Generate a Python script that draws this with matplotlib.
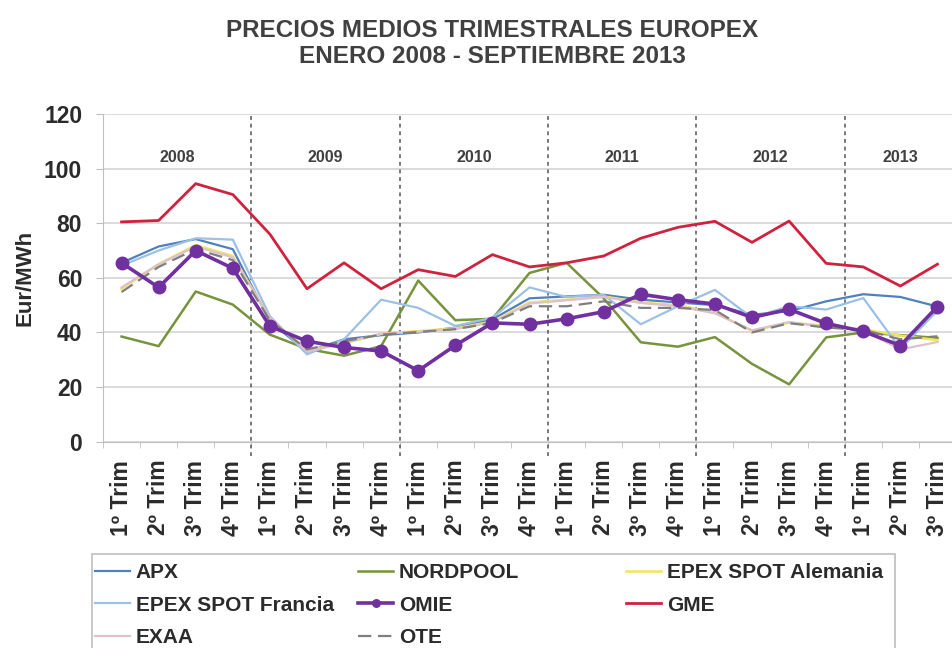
import numpy as np
import matplotlib
matplotlib.use("Agg")
import matplotlib.pyplot as plt
from matplotlib.patches import Rectangle

plt.rcParams['font.family'] = ['Liberation Sans', 'DejaVu Sans']

# data (Eur/MWh, quarterly averages)
quarters = ["1º Trim", "2º Trim", "3º Trim", "4º Trim"] * 5 + ["1º Trim", "2º Trim", "3º Trim"]
years = ["2008", "2009", "2010", "2011", "2012", "2013"]
year_pos = [1.5, 5.5, 9.5, 13.5, 17.5, 21]
year_breaks = [3.5, 7.5, 11.5, 15.5, 19.5]

apx = [65.5, 71.5, 74.2, 70.5, 44, 33, 37.5, 39, 40, 41.8, 44.8, 52.5,
       53.2, 53.8, 52, 51, 50, 46.5, 47.8, 51.4, 54, 53, 49.5]
nordpool = [38.5, 35, 55, 50.2, 39.2, 34, 31.5, 35, 59, 44.5, 45, 61.8,
            65.5, 52.5, 36.4, 34.8, 38.3, 28.5, 21, 38.2, 40, 39, 38]
epex_de = [56, 65, 72, 68, 45, 33.5, 36, 39.5, 40.5, 41.5, 44, 51,
           52, 53.2, 51, 50, 47.2, 40.6, 43.6, 42.4, 41.2, 38.8, 37.2]
epex_fr = [64.5, 70, 74.5, 74, 46, 32, 37.5, 52, 49, 42.4, 45.4, 56.5,
           53, 53.8, 43, 49.6, 55.6, 45.4, 49.6, 48.4, 52.6, 34, 48]
omie = [65.5, 56.5, 70, 63.5, 42.3, 36.8, 34.5, 33.2, 26, 35.3, 43.5, 43,
        45, 47.6, 54, 52, 50.4, 45.5, 48.5, 43.3, 40.4, 35.2, 49.5]
gme = [80.5, 81, 94.5, 90.5, 76, 56, 65.5, 56, 63, 60.5, 68.5, 64,
       65.5, 68, 74.5, 78.5, 80.7, 73, 80.8, 65.3, 64, 57, 65]
exaa = [56.5, 65, 71.5, 67.5, 45.5, 33, 36.2, 39.5, 40.3, 41.2, 43.8, 50.6,
        51.8, 53, 50.8, 49.6, 47, 40.8, 43.8, 42, 40.8, 33.8, 36.5]
ote = [54.8, 64, 70.5, 66.5, 44.5, 33.8, 36.8, 39.2, 40.2, 41.2, 43.5, 49.6,
       49.6, 51.4, 49, 49, 48.2, 40, 43.4, 41.8, 41, 37.5, 38.6]

x = np.arange(len(quarters))
txt = '#2b2b2b'

fig = plt.figure(figsize=(9.52, 6.48), dpi=100)
ax = fig.add_axes([103 / 952, 206.3 / 648, 853 / 952, 327.7 / 648])

l_apx, = ax.plot(x, apx, color='#4f81bd', lw=1.6, label='APX')
l_nord, = ax.plot(x, nordpool, color='#77933c', lw=1.8, label='NORDPOOL')
l_de, = ax.plot(x, epex_de, color='#f3e45e', lw=1.8, label='EPEX SPOT Alemania')
l_fr, = ax.plot(x, epex_fr, color='#9cc0e6', lw=1.6, label='EPEX SPOT Francia')
l_omie, = ax.plot(x, omie, color='#7030a0', lw=2.6, marker='o', ms=9,
                  label='OMIE', zorder=4)
l_gme, = ax.plot(x, gme, color='#d0223f', lw=2.0, label='GME')
l_exaa, = ax.plot(x, exaa, color='#dcc2cb', lw=1.6, label='EXAA')
l_ote, = ax.plot(x, ote, color='#7f7f7f', lw=1.6, dashes=(6, 3), label='OTE')

ax.set_xlim(-0.5, len(quarters) - 0.5)
ax.set_ylim(0, 120)
ax.set_yticks(np.arange(0, 121, 20))
ax.grid(axis='y', color='#d4d4d4', lw=1.2)
ax.set_axisbelow(True)

for s in ['top', 'right']:
    ax.spines[s].set_visible(False)
ax.spines['left'].set_color('#bfbfbf')
ax.spines['bottom'].set_color('#bfbfbf')

ax.set_xticks(x)
ax.set_xticklabels(quarters, rotation=90, fontsize=16.5, fontweight='bold', color=txt)
ax.set_xticks(np.arange(-0.5, len(quarters)), minor=True)
ax.tick_params(axis='x', which='major', length=0, pad=13)
ax.tick_params(axis='x', which='minor', length=4, color='#bfbfbf')
ax.tick_params(axis='y', length=5, color='#bfbfbf', pad=10, labelsize=16.5, labelcolor=txt)
for lab in ax.get_yticklabels():
    lab.set_fontweight('bold')

ax.set_ylabel('Eur/MWh', fontsize=16, fontweight='bold', color=txt, labelpad=6)

for xb in year_breaks:
    ax.axvline(xb, ymin=-0.045, ymax=1, color='#555555', lw=1.1,
               dashes=(2.5, 2.5), clip_on=False, zorder=1)
for yr, xp in zip(years, year_pos):
    ax.text(xp, 104, yr, ha='center', va='center', fontsize=11.5,
            fontweight='bold', color='#404040')

fig.suptitle("PRECIOS MEDIOS TRIMESTRALES EUROPEX\nENERO 2008 - SEPTIEMBRE 2013",
             x=0.517, y=1 - 19 / 648, va='top', fontsize=17.5, fontweight='bold',
             color='#404040', linespacing=1.15)

# legend: three columns in one box, like the spreadsheet legend
fig.add_artist(Rectangle((92 / 952, -0.05), (895 - 92) / 952, (648 - 554) / 648 + 0.05,
                         transform=fig.transFigure, fill=False,
                         edgecolor='#bfbfbf', lw=1.2))
cols = [([l_apx, l_fr, l_exaa], 95), ([l_nord, l_omie, l_ote], 358),
        ([l_de, l_gme], 626)]
for handles, xpx in cols:
    leg = fig.legend(handles=handles, loc='upper left',
                     bbox_to_anchor=(xpx / 952, (648 - 563) / 648),
                     frameon=False, borderpad=0, borderaxespad=0,
                     handlelength=1.7, handletextpad=0.25, labelspacing=0.65,
                     markerscale=0.6, prop={'size': 15, 'weight': 'bold'})
    for t in leg.get_texts():
        t.set_color(txt)

fig.savefig('out.png', dpi=100)
